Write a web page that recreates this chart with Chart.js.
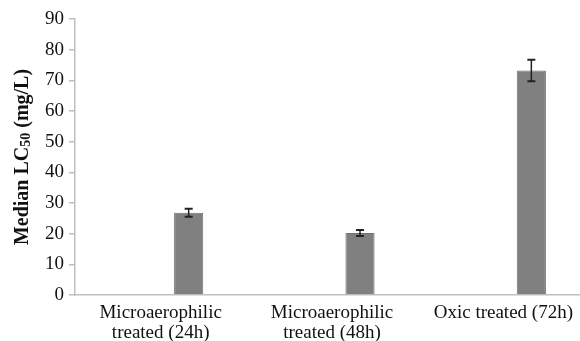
<!DOCTYPE html>
<html>
<head>
<meta charset="utf-8">
<script src="https://cdn.jsdelivr.net/npm/chart.js@4/dist/chart.umd.min.js"></script>
<style>
  html, body { margin: 0; padding: 0; background: #fff; overflow: hidden; }
  #wrap { width: 589px; height: 341px; }
</style>
</head>
<body>
<div id="wrap"><canvas id="lcChart" width="589" height="341"></canvas></div>
<script>
  // Data
  const categories = [
    ['Microaerophilic', 'treated (24h)'],
    ['Microaerophilic', 'treated (48h)'],
    'Oxic treated (72h)'
  ];
  const medianLC50 = [26.8, 20.2, 73.2];
  const errorSize = [1.3, 1.0, 3.5];
  const yTicks = [0, 10, 20, 30, 40, 50, 60, 70, 80, 90];

  const axisGray = '#bfbfbf';
  const serif = '"Liberation Serif", "Times New Roman", serif';

  // error bars drawn through the bar elements and the y scale
  const errorBarPlugin = {
    id: 'errorBars',
    afterDatasetsDraw(chart) {
      const meta = chart.getDatasetMeta(1);
      const y = chart.scales.y;
      const ctx = chart.ctx;
      ctx.save();
      ctx.strokeStyle = '#222';
      meta.data.forEach((bar, i) => {
        const v = medianLC50[i], e = errorSize[i];
        const top = y.getPixelForValue(v + e);
        const bot = y.getPixelForValue(v - e);
        ctx.lineWidth = 1.5;
        ctx.beginPath();
        ctx.moveTo(bar.x, top);
        ctx.lineTo(bar.x, bot);
        ctx.stroke();
        ctx.lineWidth = 2;
        ctx.beginPath();
        ctx.moveTo(bar.x - 4, top);
        ctx.lineTo(bar.x + 4, top);
        ctx.moveTo(bar.x - 4, bot);
        ctx.lineTo(bar.x + 4, bot);
        ctx.stroke();
      });
      ctx.restore();
    }
  };

  // y title with subscript "50"
  const yTitlePlugin = {
    id: 'yTitle',
    afterDraw(chart) {
      const ctx = chart.ctx;
      const area = chart.chartArea;
      const parts = [
        { t: 'Median LC', size: 20, dy: 0 },
        { t: '50', size: 14, dy: 3 },
        { t: ' (mg/L)', size: 20, dy: 0 }
      ];
      ctx.save();
      let total = 0;
      parts.forEach(p => {
        ctx.font = 'bold ' + p.size + 'px ' + serif;
        p.w = ctx.measureText(p.t).width;
        total += p.w;
      });
      ctx.translate(23, (area.top + area.bottom) / 2);
      ctx.rotate(-Math.PI / 2);
      ctx.fillStyle = '#111';
      ctx.textBaseline = 'middle';
      ctx.textAlign = 'left';
      let x = -total / 2;
      parts.forEach(p => {
        ctx.font = 'bold ' + p.size + 'px ' + serif;
        ctx.fillText(p.t, x, p.dy);
        x += p.w;
      });
      ctx.restore();
    }
  };

  new Chart(document.getElementById('lcChart').getContext('2d'), {
    type: 'bar',
    data: {
      labels: categories,
      datasets: [
        { label: 'spacer', data: categories.map(() => null) },
        {
          label: 'Median LC50',
          data: medianLC50,
          backgroundColor: '#808080',
          borderColor: '#707070',
          borderWidth: 1
        }
      ]
    },
    options: {
      responsive: false,
      animation: false,
      categoryPercentage: 0.654,
      barPercentage: 0.52,
      layout: { padding: { top: 19, right: 0, bottom: 0, left: 0 } },
      plugins: {
        legend: { display: false },
        tooltip: { enabled: false }
      },
      scales: {
        x: {
          grid: { display: false, drawTicks: false },
          border: { display: true, color: axisGray, width: 1.5 },
          ticks: {
            color: '#111',
            font: { family: serif, size: 19, lineHeight: 1.05 },
            padding: 8,
            maxRotation: 0,
            autoSkip: false
          },
          afterFit(scale) { scale.height = 46; }
        },
        y: {
          min: 0,
          max: 90,
          afterBuildTicks(scale) { scale.ticks = yTicks.map(v => ({ value: v })); },
          grid: {
            display: true,
            drawOnChartArea: false,
            drawTicks: true,
            tickLength: 6,
            color: axisGray,
            lineWidth: 1.5
          },
          border: { display: true, color: axisGray, width: 1.5 },
          ticks: {
            color: '#111',
            font: { family: serif, size: 19 },
            padding: 5
          },
          afterFit(scale) { scale.width = 75; }
        }
      }
    },
    plugins: [errorBarPlugin, yTitlePlugin]
  });
</script>
</body>
</html>
